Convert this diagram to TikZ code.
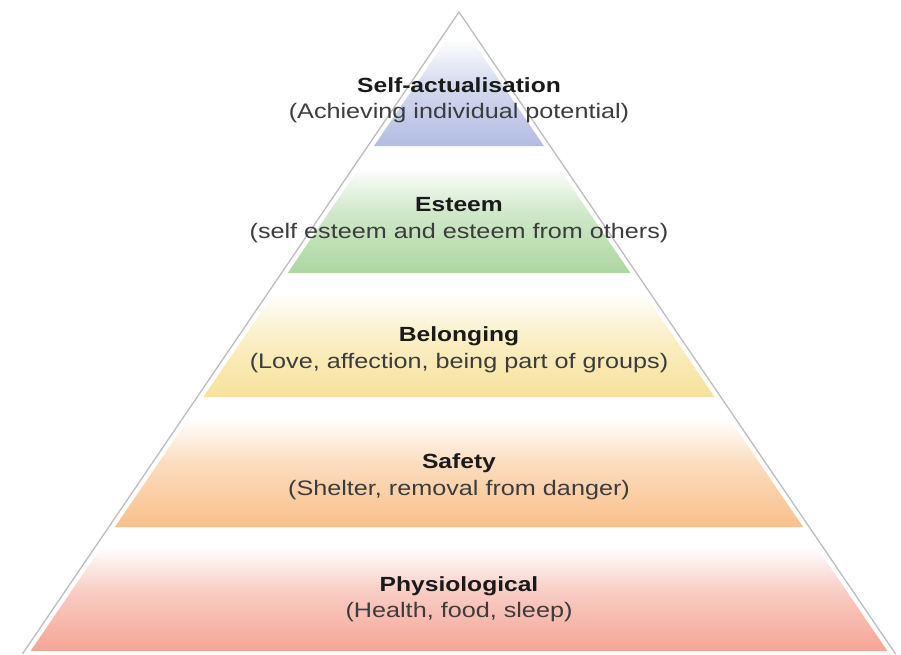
\documentclass[tikz,border=0pt]{standalone}
\usepackage{fontspec}
\setmainfont{Liberation Sans}

% band colours (full strength at the bottom of each band)
\definecolor{cblue}{HTML}{B3BDE1}
\definecolor{cgreen}{HTML}{ACD6A0}
\definecolor{cyellow}{HTML}{F7E29A}
\definecolor{corange}{HTML}{F9C08A}
\definecolor{cred}{HTML}{F4A595}
\definecolor{outline}{HTML}{BDBDBD}
\definecolor{headtext}{HTML}{1A1A1A}
\definecolor{subtext}{HTML}{3C3C3C}

% white at the top of a band, fading into its colour towards the bottom
\newcommand\bandshading[2]{%
  \pgfdeclareverticalshading{#1}{100bp}{color(0bp)=(#2); color(25bp)=(#2);
    color(50bp)=(#2!55!white); color(68bp)=(white); color(100bp)=(white)}}
\bandshading{bandblue}{cblue}
\bandshading{bandgreen}{cgreen}
\bandshading{bandyellow}{cyellow}
\bandshading{bandorange}{corange}
\bandshading{bandred}{cred}

\newcommand\widetext[1]{\scalebox{1.2}[1]{#1}}

\tikzset{
  head/.style={anchor=base, inner sep=0pt, text=headtext,
    font=\fontsize{20.5}{24}\selectfont\bfseries},
  sub/.style={anchor=base, inner sep=0pt, text=subtext,
    font=\fontsize{21}{24}\selectfont},
}

\begin{document}
\begin{tikzpicture}[x=1pt, y=-1pt]
  \useasboundingbox (0,0) rectangle (901,654);

  % shaded levels of the pyramid
  \foreach \ya/\yb/\sh in {21/146/bandblue, 149/273/bandgreen,
      276/397/bandyellow, 400/527/bandorange, 530/651/bandred} {
    \pgfmathsetmacro\wa{0.68*(\ya-21)}
    \pgfmathsetmacro\wb{0.68*(\yb-21)}
    \shade[shading=\sh] (459-\wa,\ya) -- (459+\wa,\ya)
      -- (459+\wb,\yb) -- (459-\wb,\yb) -- cycle;
  }

  % outer outline of the pyramid
  \coordinate (apex) at (459,12);
  \coordinate (baseL) at (22.4,654);
  \coordinate (baseR) at (895.6,654);
  \draw[outline, line width=1.3pt, line join=miter] (baseL) -- (apex) -- (baseR);

  % level labels
  \node[head] (h1) at (459,92)  {\widetext{Self-actualisation}};
  \node[sub]  (s1) at (459,118) {\widetext{(Achieving individual potential)}};
  \node[head] (h2) at (459,211) {\widetext{Esteem}};
  \node[sub]  (s2) at (459,238) {\widetext{(self esteem and esteem from others)}};
  \node[head] (h3) at (459,341) {\widetext{Belonging}};
  \node[sub]  (s3) at (459,368) {\widetext{(Love, affection, being part of groups)}};
  \node[head] (h4) at (459,468) {\widetext{Safety}};
  \node[sub]  (s4) at (459,495) {\widetext{(Shelter, removal from danger)}};
  \node[head] (h5) at (459,591) {\widetext{Physiological}};
  \node[sub]  (s5) at (459,617) {\widetext{(Health, food, sleep)}};
\end{tikzpicture}
\end{document}
